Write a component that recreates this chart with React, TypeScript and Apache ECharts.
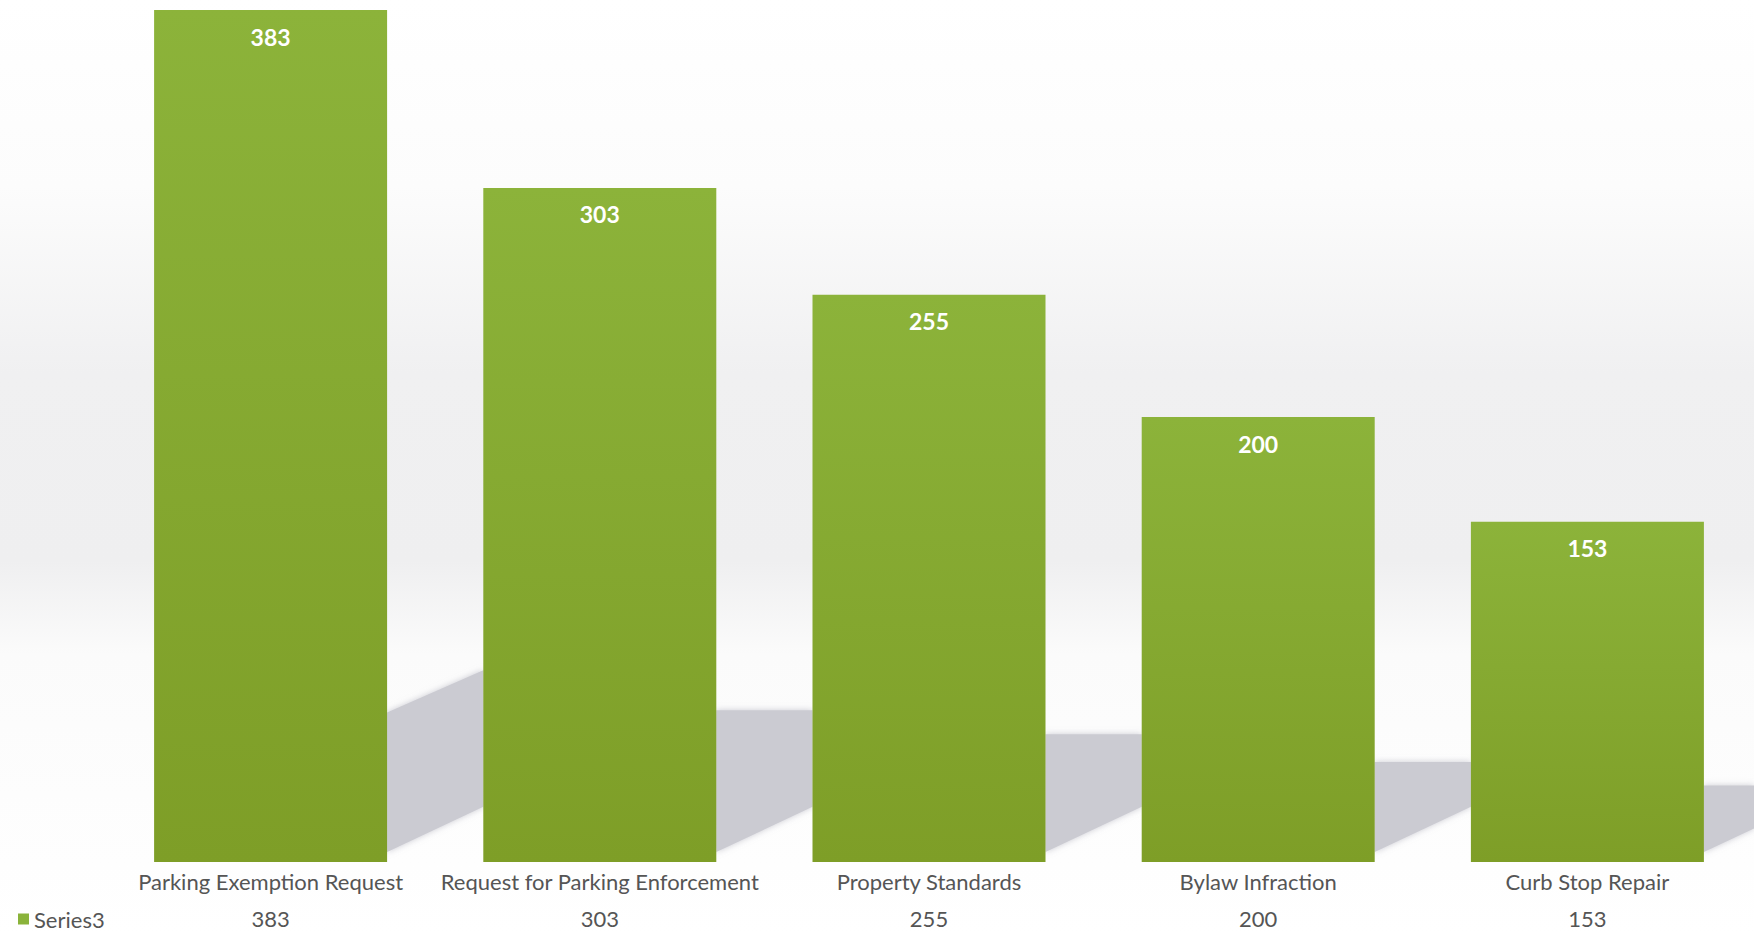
import React, { useEffect, useRef } from "react";
import * as echarts from "echarts";

const categories = [
  "Parking Exemption Request",
  "Request for Parking Enforcement",
  "Property Standards",
  "Bylaw Infraction",
  "Curb Stop Repair",
];
const seriesName = "Series3";
const values = [383, 303, 255, 200, 153];
const tableLabels = values.map((v) => String(v));

const BAR_W = 233;
const FONT = "Lato, 'Open Sans', sans-serif";

export default function App() {
  const ref = useRef<HTMLDivElement>(null);
  useEffect(() => {
    document.body.style.margin = "0";
    const chart = echarts.init(ref.current!, null, { renderer: "svg" });
    const option: any = {
      animation: false,
      backgroundColor: {
        type: "linear",
        x: 0,
        y: 0,
        x2: 0,
        y2: 1,
        colorStops: [
          { offset: 0, color: "#ffffff" },
          { offset: 0.2, color: "#fcfcfc" },
          { offset: 0.4, color: "#f0f0f1" },
          { offset: 0.6, color: "#efeff0" },
          { offset: 0.7, color: "#fbfbfb" },
          { offset: 1, color: "#ffffff" },
        ],
      },
      legend: {
        data: [{ name: seriesName, itemStyle: { color: "#8ab33a" } }],
        left: 13,
        top: 903,
        icon: "rect",
        itemWidth: 11,
        itemHeight: 11,
        itemGap: 6,
        textStyle: { color: "#555555", fontSize: 22, fontFamily: FONT },
      },
      grid: { left: 106, right: 2, top: 10, bottom: 73, containLabel: false },
      xAxis: [
        {
          type: "category",
          data: categories,
          axisLine: { show: false },
          axisTick: { show: false },
          axisLabel: {
            color: "#555555",
            fontSize: 22,
            fontFamily: FONT,
            margin: 8,
            interval: 0,
          },
        },
        {
          type: "category",
          data: tableLabels,
          position: "bottom",
          offset: 36,
          axisLine: { show: false },
          axisTick: { show: false },
          axisLabel: {
            color: "#555555",
            fontSize: 22,
            fontFamily: FONT,
            margin: 9,
            interval: 0,
          },
        },
      ],
      yAxis: {
        type: "value",
        min: 0,
        max: 383,
        show: false,
        splitLine: { show: false },
      },
      series: [
        {
          type: "custom",
          name: "shadow",
          xAxisIndex: 0,
          z: 1,
          silent: true,
          data: values.map((v, i) => [i, v]),
          renderItem: (params: any, api: any) => {
            const idx = api.value(0);
            const v = api.value(1);
            const top = api.coord([idx, v]);
            const base = api.coord([idx, 0]);
            const band = api.size([1, 0])[0];
            const cs = params.coordSys;
            const xr = top[0] + BAR_W / 2;
            let xn = top[0] + band - BAR_W / 2;
            const rightEdge = cs.x + cs.width + 2;
            if (xn > rightEdge) xn = rightEdge;
            const y0 = base[1];
            const h = (y0 - top[1]) * 0.225;
            const hl = idx === 0 ? h * 0.78 : h;
            const slope = 0.47;
            const w = xn - xr;
            return {
              type: "polygon",
              shape: {
                points: [
                  [xr, y0 - hl],
                  [xn, y0 - h],
                  [xn, y0 - 10 - w * slope],
                  [xr, y0 - 10],
                ],
              },
              style: {
                fill: "#cbcbd2",
                shadowBlur: 6,
                shadowColor: "rgba(190,190,200,0.8)",
              },
            };
          },
        },
        {
          type: "bar",
          name: seriesName,
          xAxisIndex: 0,
          z: 2,
          data: values,
          barWidth: BAR_W,
          itemStyle: {
            color: {
              type: "linear",
              x: 0,
              y: 0,
              x2: 0,
              y2: 1,
              colorStops: [
                { offset: 0, color: "#8cb33a" },
                { offset: 1, color: "#7e9e27" },
              ],
            },
          },
          label: {
            show: true,
            position: "insideTop",
            distance: 15,
            color: "#ffffff",
            fontSize: 23,
            fontWeight: "bold",
            fontFamily: FONT,
          },
        },
      ],
    };
    chart.setOption(option);
    return () => chart.dispose();
  }, []);
  return (
    <div
      ref={ref}
      style={{ position: "fixed", left: 0, top: 0, width: 1754, height: 935 }}
    />
  );
}
